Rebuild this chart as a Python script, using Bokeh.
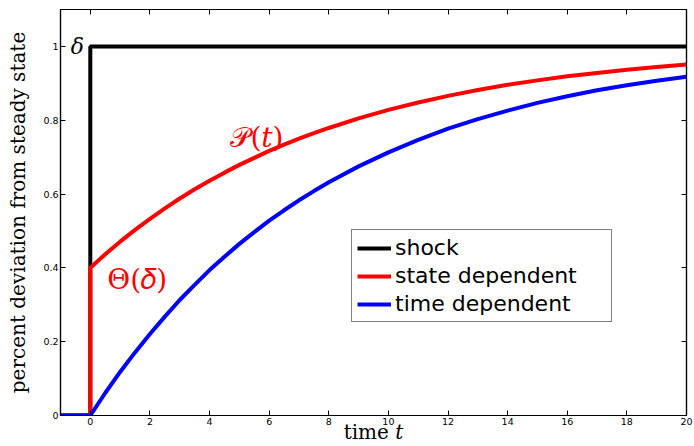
from bokeh.embed import file_html
from bokeh.models import (FixedTicker, Label, Legend, LegendItem, LinearAxis,
                          PrintfTickFormatter)
from bokeh.plotting import figure
from bokeh.resources import INLINE

# ---- data ---------------------------------------------------------------
# time grid for the adjustment paths (t >= 0)
t_path = [0, 0.5, 1, 1.5, 2, 2.5, 3, 3.5, 4, 4.5, 5, 5.5, 6, 6.5, 7, 7.5, 8,
          9, 10, 11, 12, 13, 14, 15, 16, 17, 18, 19, 20]
# response under state-dependent pricing: jumps to Theta(delta) on impact
state_dependent = [0.400, 0.437, 0.471, 0.503, 0.533, 0.561, 0.588, 0.613,
                   0.636, 0.658, 0.679, 0.698, 0.717, 0.734, 0.750, 0.765,
                   0.779, 0.805, 0.828, 0.848, 0.866, 0.882, 0.896, 0.908,
                   0.919, 0.928, 0.937, 0.944, 0.951]
# response under time-dependent pricing: starts from zero
time_dependent = [0.000, 0.061, 0.118, 0.171, 0.221, 0.268, 0.313, 0.354,
                  0.394, 0.430, 0.465, 0.497, 0.528, 0.556, 0.583, 0.608,
                  0.632, 0.675, 0.713, 0.747, 0.777, 0.803, 0.826, 0.847,
                  0.865, 0.881, 0.895, 0.907, 0.918]
# permanent shock of size delta hitting at t = 0
shock_size = 1.0
t_start, t_end = -1, 20

x_ticks = [0, 2, 4, 6, 8, 10, 12, 14, 16, 18, 20]
y_ticks = [0, 0.2, 0.4, 0.6, 0.8, 1.0]

legend_labels = ["shock", "state dependent", "time dependent"]

# ---- figure -------------------------------------------------------------
p = figure(width=694, height=446, x_range=(t_start, t_end), y_range=(0, 1.1),
           output_backend="svg", toolbar_location=None,
           min_border_left=60, min_border_right=8,
           min_border_top=9, min_border_bottom=31,
           x_axis_location=None, y_axis_location=None)
p.xgrid.visible = False
p.ygrid.visible = False
p.outline_line_color = "black"
p.outline_line_width = 1.2
p.background_fill_color = "white"
p.border_fill_color = "white"

tick_font = "DejaVu Sans"
serif = "DejaVu Serif"


def style_axis(ax, ticks, show_labels):
    ax.ticker = FixedTicker(ticks=ticks)
    ax.major_tick_in = 5
    ax.major_tick_out = 0
    ax.minor_tick_in = 0
    ax.minor_tick_out = 0
    ax.major_tick_line_color = "black"
    ax.major_tick_line_width = 1
    ax.axis_line_color = "black"
    ax.axis_line_width = 1.2
    if show_labels:
        ax.major_label_text_font = tick_font
        ax.major_label_text_font_size = "9.5px"
        ax.major_label_text_color = "black"
        ax.major_label_standoff = 2
        ax.axis_label_text_font = serif
        ax.axis_label_text_font_style = "normal"
        ax.axis_label_text_color = "black"
    else:
        # mirrored ticks only, no numbers
        ax.major_label_text_font_size = "1px"
        ax.major_label_text_color = None
        ax.major_label_text_alpha = 0
        ax.major_label_standoff = 0


bottom = LinearAxis(axis_label="time 𝑡")
style_axis(bottom, x_ticks, True)
bottom.axis_label_text_font_size = "20px"
bottom.axis_label_standoff = -8
p.add_layout(bottom, "below")

top = LinearAxis()
style_axis(top, x_ticks, False)
p.add_layout(top, "above")

left = LinearAxis(formatter=PrintfTickFormatter(format="%g"),
                  axis_label="percent deviation from steady state")
style_axis(left, y_ticks, True)
left.axis_label_text_font_size = "20px"
left.axis_label_standoff = 10
p.add_layout(left, "left")

right = LinearAxis()
style_axis(right, y_ticks, False)
p.add_layout(right, "right")

# ---- lines --------------------------------------------------------------
shock_x = [t_start, 0, 0, t_end]
shock_y = [0, 0, shock_size, shock_size]
r_shock = p.line(shock_x, shock_y, line_color="black", line_width=4)

state_x = [t_start, 0] + t_path
state_y = [0, 0] + state_dependent
r_state = p.line(state_x, state_y, line_color="#ff0000", line_width=4)

time_x = [t_start] + t_path
time_y = [0] + time_dependent
r_time = p.line(time_x, time_y, line_color="#0000ff", line_width=4)

# ---- legend -------------------------------------------------------------
legend = Legend(items=[LegendItem(label=legend_labels[0], renderers=[r_shock]),
                       LegendItem(label=legend_labels[1], renderers=[r_state]),
                       LegendItem(label=legend_labels[2], renderers=[r_time])],
                location=(291, 93))
legend.label_text_font = "DejaVu Sans"
legend.label_text_font_size = "22px"
legend.label_text_color = "black"
legend.label_standoff = 4
legend.label_width = 211
legend.glyph_width = 34
legend.glyph_height = 20
legend.label_height = 20
legend.spacing = 3
legend.padding = 5
legend.margin = 0
legend.border_line_color = "black"
legend.border_line_width = 1.5
legend.background_fill_color = "white"
legend.background_fill_alpha = 1.0
p.add_layout(legend)

# ---- annotations --------------------------------------------------------
p.add_layout(Label(x=-0.43, y=shock_size, text="δ", text_font=serif,
                   text_font_style="italic", text_font_size="22px",
                   text_color="black", text_align="center",
                   text_baseline="middle"))
p.add_layout(Label(x=4.70, y=0.754, text="𝒫(𝑡)", text_font=serif,
                   text_font_size="28px",
                   text_color="#ff0000", text_align="left",
                   text_baseline="alphabetic"))
p.add_layout(Label(x=0.57, y=0.369, text="Θ(𝛿)", text_font=serif,
                   text_font_size="28px", text_color="#ff0000",
                   text_align="left", text_baseline="alphabetic"))

open("out.html", "w").write(file_html(p, INLINE))
